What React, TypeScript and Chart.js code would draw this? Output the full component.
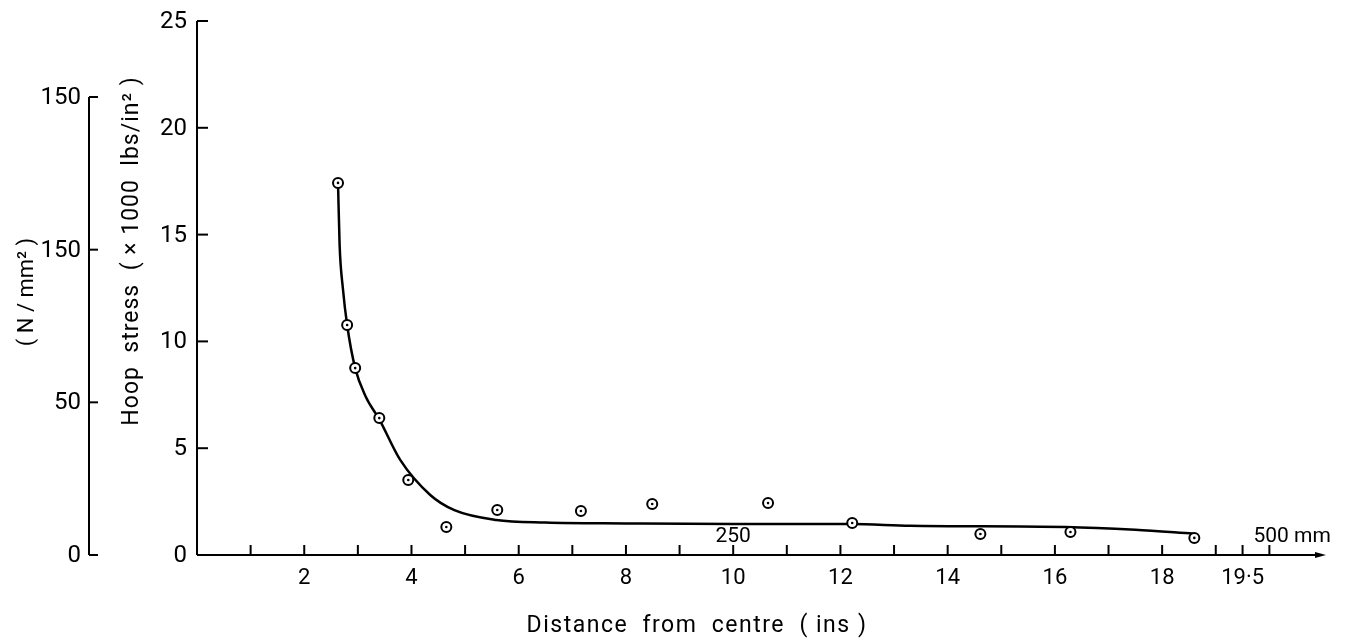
import React, { useEffect, useRef } from "react";
import { Chart, registerables } from "chart.js";

Chart.register(...registerables);

// Measured points (distance in inches, hoop stress in 1000 lbs/in^2)
const pointX = [2.63, 2.8, 2.95, 3.4, 3.94, 4.65, 5.6, 7.16, 8.49, 10.65, 12.22, 14.61, 16.29, 18.6];
const pointY = [17.42, 10.77, 8.75, 6.41, 3.51, 1.31, 2.11, 2.06, 2.39, 2.43, 1.5, 0.98, 1.08, 0.8];

// Fitted curve drawn through the points
const curveX = [2.63, 2.66, 2.72, 2.8, 2.95, 3.15, 3.4, 3.79, 4.35, 4.8, 5.58, 6.5, 8, 10, 12.2, 13.3, 16.2, 17.5, 18.58];
const curveY = [17.42, 14.5, 12.5, 10.77, 8.75, 7.4, 6.35, 4.45, 2.81, 2.1, 1.64, 1.52, 1.48, 1.45, 1.45, 1.37, 1.31, 1.18, 1.0];

// Axis ticks
const xTickValues = [2, 4, 6, 8, 10, 12, 14, 16, 18, 19.5];
const xTickLabels = ["2", "4", "6", "8", "10", "12", "14", "16", "18", "19·5"];
const xMinorTicks = [1, 2, 3, 4, 5, 6, 7, 8, 9, 10, 11, 12, 13, 14, 15, 16, 17, 18, 19, 19.5, 20];
const yTickValues = [0, 5, 10, 15, 20, 25];
const yTickLabels = ["0", "5", "10", "15", "20", "25"];
const y2TickValues = [0, 50, 100, 150];
const y2TickLabels = ["0", "50", "150", "150"];
const mmMarks = [10, 20];
const mmLabels = ["250", "500 mm"];

const xTitle = "Distance  from  centre  ( ins )";
const yTitle = "Hoop  stress  ( × 1000  lbs/in² )";
const y2Title = "( N / mm² )";

const FONT = 'Roboto, "DejaVu Sans", sans-serif';

const axesPlugin = {
  id: "axesPlugin",
  afterDatasetsDraw(chart: any) {
    const { ctx, scales } = chart;
    const x = scales.x;
    const y = scales.y;
    const y2 = scales.y2;
    const x0 = x.getPixelForValue(0);
    const yb = y.getPixelForValue(0);
    ctx.save();
    ctx.strokeStyle = "#000";
    ctx.fillStyle = "#000";
    ctx.lineWidth = 2;
    ctx.lineCap = "butt";

    // x axis line with arrow
    const xEnd = x.right + 3;
    ctx.beginPath();
    ctx.moveTo(x0, yb);
    ctx.lineTo(xEnd - 8, yb);
    ctx.stroke();
    ctx.beginPath();
    ctx.moveTo(xEnd, yb);
    ctx.lineTo(xEnd - 11, yb - 3);
    ctx.lineTo(xEnd - 11, yb + 3);
    ctx.closePath();
    ctx.fill();

    // x minor ticks (inward)
    xMinorTicks.forEach((v) => {
      const px = x.getPixelForValue(v);
      ctx.beginPath();
      ctx.moveTo(px, yb);
      ctx.lineTo(px, yb - 10);
      ctx.stroke();
    });

    // x tick labels
    ctx.font = `22px ${FONT}`;
    ctx.textAlign = "center";
    ctx.textBaseline = "middle";
    xTickValues.forEach((v, i) => {
      ctx.fillText(xTickLabels[i], x.getPixelForValue(v), yb + 23);
    });

    // mm labels
    ctx.font = `21px ${FONT}`;
    ctx.textAlign = "center";
    ctx.fillText(mmLabels[0], x.getPixelForValue(mmMarks[0]), yb - 18);
    ctx.textAlign = "left";
    ctx.fillText(mmLabels[1], x.getPixelForValue(mmMarks[1]) - 16, yb - 18);

    // primary y axis
    const yTop = y.getPixelForValue(25);
    ctx.beginPath();
    ctx.moveTo(x0, yb);
    ctx.lineTo(x0, yTop);
    ctx.stroke();
    ctx.font = `24px ${FONT}`;
    ctx.textAlign = "right";
    yTickValues.forEach((v, i) => {
      const py = y.getPixelForValue(v);
      if (v !== 0) {
        ctx.beginPath();
        ctx.moveTo(x0, py);
        ctx.lineTo(x0 + 11, py);
        ctx.stroke();
      }
      ctx.fillText(yTickLabels[i], x0 - 10, py + 1);
    });

    // secondary y axis (N/mm^2)
    const ax2 = 89;
    const y2b = y2.getPixelForValue(0);
    const y2t = y2.getPixelForValue(150);
    ctx.beginPath();
    ctx.moveTo(ax2, y2b);
    ctx.lineTo(ax2, y2t);
    ctx.stroke();
    y2TickValues.forEach((v, i) => {
      const py = y2.getPixelForValue(v);
      ctx.beginPath();
      ctx.moveTo(ax2, py);
      ctx.lineTo(ax2 + 9, py);
      ctx.stroke();
      ctx.fillText(y2TickLabels[i], ax2 - 8, py + 1);
    });

    // titles
    ctx.textAlign = "center";
    ctx.font = `23px ${FONT}`;
    (ctx as any).letterSpacing = "1.5px";
    ctx.fillText(xTitle, 697, 626);

    ctx.save();
    ctx.translate(132, 251);
    ctx.rotate(-Math.PI / 2);
    (ctx as any).letterSpacing = "1px";
    ctx.fillText(yTitle, 0, 0);
    ctx.restore();

    ctx.save();
    ctx.translate(27, 292);
    ctx.rotate(-Math.PI / 2);
    (ctx as any).letterSpacing = "0px";
    ctx.font = `22px ${FONT}`;
    ctx.fillText(y2Title, 0, 0);
    ctx.restore();

    ctx.restore();
  },
};

export default function App() {
  const canvasRef = useRef<HTMLCanvasElement | null>(null);

  useEffect(() => {
    const canvas = canvasRef.current;
    if (!canvas) return;
    const points = pointX.map((v, i) => ({ x: v, y: pointY[i] }));
    const curve = curveX.map((v, i) => ({ x: v, y: curveY[i] }));
    const chart = new Chart(canvas, {
      type: "scatter",
      data: {
        datasets: [
          {
            label: "centres",
            data: points,
            pointRadius: 1.3,
            pointBackgroundColor: "#000",
            pointBorderWidth: 0,
            showLine: false,
          },
          {
            label: "measured",
            data: points,
            pointRadius: 5,
            pointBorderWidth: 2,
            pointBorderColor: "#000",
            pointBackgroundColor: "#fff",
            showLine: false,
          },
          {
            label: "fit",
            data: curve,
            showLine: true,
            pointRadius: 0,
            borderColor: "#000",
            borderWidth: 2.5,
            cubicInterpolationMode: "monotone",
            fill: false,
          } as any,
        ],
      },
      options: {
        animation: false,
        responsive: false,
        devicePixelRatio: 1,
        clip: false as any,
        layout: { padding: { left: 197, top: 21, right: 22, bottom: 88 } },
        plugins: { legend: { display: false }, tooltip: { enabled: false } },
        scales: {
          x: { type: "linear", min: 0, max: 21, display: false },
          y: { type: "linear", min: 0, max: 25, display: false },
          y2: { type: "linear", min: 0, max: 150 * 534 / 458, display: false },
        },
      },
      plugins: [axesPlugin],
    });
    return () => chart.destroy();
  }, []);

  return (
    <div style={{ position: "fixed", left: 0, top: 0, width: 1345, height: 643, background: "#fff" }}>
      <canvas ref={canvasRef} width={1345} height={643} style={{ width: 1345, height: 643, display: "block" }} />
    </div>
  );
}
